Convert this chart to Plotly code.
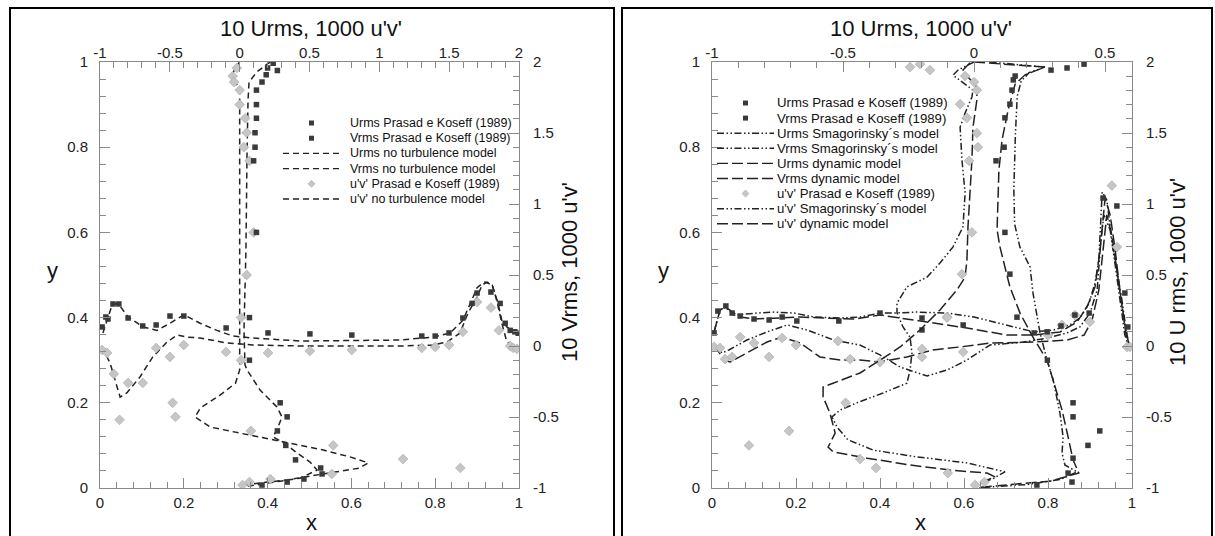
import plotly.graph_objects as go

W, H = 1215, 536
FONT = "Liberation Sans, Arial, Helvetica, sans-serif"
AX = "#8a8a8a"
LC = "#222222"
SQ = "#3a3a3a"
DI = "#c6c6c6"

# ================= LEFT PANEL : no turbulence model =================
# vertical centre-line profiles (top axis: 10 Urms / 1000 u'v', left axis: y)
L_urms_exp_u = [0.20, 0.24, 0.27, 0.19, 0.16, 0.12, 0.12, 0.12, 0.11, 0.11, 0.10, 0.12, 0.07, 0.07,
                0.29, 0.34, 0.27, 0.33, 0.40, 0.58, 0.59, 0.46, 0.34, 0.16]
L_urms_exp_y = [0.986, 0.997, 0.98, 0.97, 0.953, 0.934, 0.90, 0.868, 0.834, 0.80, 0.768, 0.60, 0.40, 0.30,
                0.20, 0.167, 0.134, 0.10, 0.066, 0.047, 0.033, 0.021, 0.014, 0.007]
L_uv_exp_u = [-0.02, -0.05, -0.04, 0.0, 0.0, 0.04, 0.05, 0.03, 0.07, 0.10, 0.05, 0.01, 0.01, 0.08,
              0.67, 1.17, 1.58, 0.66, 0.22, 0.07, 0.02, -0.46, -0.48, -0.86]
L_uv_exp_y = [0.986, 0.967, 0.953, 0.934, 0.90, 0.868, 0.834, 0.80, 0.768, 0.60, 0.50, 0.40, 0.30, 0.134,
              0.10, 0.068, 0.047, 0.033, 0.021, 0.014, 0.007, 0.167, 0.20, 0.16]
L_urms_nm_u = [0.22, 0.196, 0.124, 0.067, 0.060, 0.053, 0.045, 0.031, 0.038, 0.053, 0.146, 0.267, 0.303,
               0.275, 0.239, 0.339, 0.411, 0.504, 0.554, 0.432, 0.289, 0.146, 0.017]
L_urms_nm_y = [1.0, 0.995, 0.977, 0.953, 0.911, 0.793, 0.559, 0.371, 0.289, 0.277, 0.230, 0.190, 0.167,
               0.143, 0.120, 0.101, 0.082, 0.061, 0.042, 0.023, 0.016, 0.009, 0.002]
L_uv_nm_u = [0.0, -0.03, -0.05, -0.03, 0.0, 0.0, 0.0, 0.0, 0.0, 0.0, -0.03, -0.14, -0.28, -0.32, -0.21,
             0.0, 0.22, 0.36, 0.60, 0.79, 0.92, 0.86, 0.65, 0.52, 0.34, 0.15, 0.0]
L_uv_nm_y = [1.0, 0.988, 0.972, 0.953, 0.934, 0.887, 0.676, 0.441, 0.347, 0.277, 0.246, 0.218, 0.188,
             0.167, 0.143, 0.129, 0.115, 0.106, 0.089, 0.073, 0.059, 0.047, 0.035, 0.028, 0.019, 0.012, 0.005]

# horizontal centre-line profiles (bottom axis: x, right axis: 10 Vrms / 1000 u'v')
L_vrms_exp_x = [0.005, 0.014, 0.019, 0.031, 0.045, 0.067, 0.102, 0.134, 0.167, 0.2, 0.301, 0.401, 0.501,
                0.601, 0.768, 0.80, 0.833, 0.866, 0.888, 0.90, 0.933, 0.955, 0.967, 0.979, 0.99, 0.998]
L_vrms_exp_v = [0.134, 0.204, 0.19, 0.296, 0.296, 0.197, 0.141, 0.148, 0.211, 0.211, 0.127, 0.092, 0.085,
                0.077, 0.07, 0.07, 0.092, 0.197, 0.30, 0.373, 0.38, 0.30, 0.16, 0.11, 0.10, 0.09]
L_uvh_exp_x = [0.005, 0.017, 0.033, 0.067, 0.102, 0.134, 0.167, 0.2, 0.301, 0.401, 0.501, 0.601, 0.768,
               0.80, 0.833, 0.866, 0.90, 0.933, 0.952, 0.979, 0.986, 0.995]
L_uvh_exp_v = [-0.028, -0.049, -0.197, -0.26, -0.26, -0.014, -0.077, 0.007, -0.042, -0.049, -0.035,
               -0.028, -0.014, -0.007, 0.007, 0.10, 0.31, 0.27, 0.11, 0.0, -0.014, -0.02]
L_vrms_nm_x = [0.007, 0.017, 0.029, 0.043, 0.067, 0.103, 0.136, 0.167, 0.2, 0.239, 0.279, 0.317, 0.365,
               0.477, 0.716, 0.795, 0.835, 0.866, 0.883, 0.90, 0.912, 0.919, 0.936, 0.95, 0.959, 0.971,
               0.986, 0.998]
L_vrms_nm_v = [0.092, 0.18, 0.29, 0.30, 0.205, 0.134, 0.11, 0.16, 0.22, 0.16, 0.11, 0.07, 0.056, 0.035,
               0.042, 0.063, 0.09, 0.18, 0.30, 0.41, 0.44, 0.45, 0.43, 0.30, 0.18, 0.134, 0.11, 0.10]
L_uvh_nm_x = [0.005, 0.024, 0.041, 0.048, 0.064, 0.095, 0.126, 0.160, 0.184, 0.208, 0.239, 0.303, 0.365,
              0.477, 0.716, 0.795, 0.828, 0.859, 0.878, 0.90, 0.912, 0.924, 0.936, 0.947, 0.959, 0.971,
              0.995]
L_uvh_nm_v = [-0.007, -0.12, -0.29, -0.36, -0.33, -0.22, -0.077, 0.028, 0.077, 0.063, 0.056, 0.021,
              0.007, 0.0, 0.0, 0.007, 0.028, 0.09, 0.23, 0.345, 0.43, 0.45, 0.43, 0.32, 0.16, 0.028, -0.007]

# ================= RIGHT PANEL : LES models =================
R_urms_exp_u = [0.294, 0.355, 0.42, 0.157, 0.15, 0.145, 0.137, 0.118, 0.115, 0.084, 0.118, 0.137, 0.164,
                0.28, 0.378, 0.378, 0.48, 0.435, 0.378, 0.359, 0.374, 0.24]
R_urms_exp_y = [0.981, 0.986, 0.995, 0.967, 0.958, 0.934, 0.901, 0.869, 0.80, 0.768, 0.60, 0.502, 0.401,
                0.30, 0.20, 0.167, 0.134, 0.10, 0.07, 0.035, 0.014, 0.007]
R_uv_exp_u = [-0.244, -0.206, -0.168, -0.034, 0.0, 0.011, -0.053, -0.027, 0.011, 0.015, -0.019, -0.008,
              -0.046, -0.103, -0.49, -0.435, -0.374, -0.10, 0.004, 0.04, -0.859, -0.706]
R_uv_exp_y = [0.988, 0.995, 0.981, 0.967, 0.953, 0.934, 0.901, 0.869, 0.833, 0.80, 0.768, 0.60, 0.502,
              0.40, 0.20, 0.068, 0.047, 0.035, 0.007, 0.014, 0.10, 0.134]
R_urms_smag_u = [0.06, 0.27, 0.21, 0.18, 0.165, 0.158, 0.152, 0.155, 0.175, 0.214, 0.225, 0.252, 0.279,
                 0.302, 0.328, 0.34, 0.336, 0.347, 0.393, 0.33, 0.2, 0.0]
R_urms_smag_y = [1.0, 0.988, 0.975, 0.955, 0.92, 0.83, 0.70, 0.62, 0.566, 0.519, 0.458, 0.364, 0.30,
                 0.254, 0.176, 0.12, 0.082, 0.054, 0.038, 0.02, 0.008, 0.0]
R_urms_dyn_u = [0.0, 0.27, 0.195, 0.157, 0.13, 0.107, 0.095, 0.088, 0.099, 0.137, 0.176, 0.225, 0.279,
                0.309, 0.336, 0.359, 0.378, 0.40, 0.29, 0.1, 0.0]
R_urms_dyn_y = [1.0, 0.988, 0.97, 0.948, 0.887, 0.817, 0.746, 0.606, 0.566, 0.472, 0.41, 0.354, 0.30,
                0.237, 0.183, 0.12, 0.066, 0.035, 0.016, 0.006, 0.0]
R_uv_smag_u = [0.0, -0.061, -0.08, -0.042, -0.004, -0.008, -0.034, -0.053, -0.046, -0.034, -0.042, -0.08,
               -0.13, -0.179, -0.256, -0.294, -0.294, -0.271, -0.244, -0.237, -0.244, -0.256, -0.347,
               -0.447, -0.511, -0.542, -0.523, -0.481, -0.385, -0.218, -0.027, 0.118, 0.076, 0.0]
R_uv_smag_y = [1.0, 0.981, 0.969, 0.951, 0.934, 0.918, 0.880, 0.847, 0.770, 0.692, 0.613, 0.566, 0.528,
               0.495, 0.472, 0.434, 0.411, 0.378, 0.354, 0.317, 0.277, 0.246, 0.223, 0.20, 0.183, 0.167,
               0.143, 0.113, 0.089, 0.073, 0.059, 0.038, 0.023, 0.005]
R_uv_dyn_u = [-0.015, -0.042, -0.023, 0.011, 0.011, -0.004, -0.008, -0.015, -0.023, -0.027, -0.034,
              -0.065, -0.13, -0.206, -0.282, -0.359, -0.435, -0.538, -0.576, -0.576, -0.55, -0.53, -0.557,
              -0.538, -0.408, -0.244, -0.092, 0.05, 0.08, 0.0]
R_uv_dyn_y = [0.998, 0.981, 0.965, 0.941, 0.911, 0.847, 0.770, 0.692, 0.613, 0.535, 0.495, 0.465, 0.418,
              0.371, 0.331, 0.30, 0.27, 0.246, 0.237, 0.214, 0.176, 0.129, 0.096, 0.085, 0.07, 0.054,
              0.042, 0.035, 0.026, 0.007]

R_vrms_exp_x = [0.005, 0.014, 0.033, 0.048, 0.067, 0.10, 0.136, 0.167, 0.202, 0.302, 0.40, 0.50, 0.50,
                0.598, 0.767, 0.798, 0.831, 0.864, 0.898, 0.931, 0.964, 0.983, 0.99]
R_vrms_exp_v = [0.092, 0.246, 0.282, 0.232, 0.211, 0.19, 0.183, 0.204, 0.176, 0.176, 0.232, 0.197, 0.113,
                0.148, 0.092, 0.10, 0.141, 0.218, 0.232, 1.042, 0.986, 0.373, 0.134]
R_uvh_exp_x = [0.005, 0.019, 0.031, 0.048, 0.067, 0.10, 0.136, 0.167, 0.20, 0.30, 0.329, 0.40, 0.50, 0.50,
               0.56, 0.598, 0.80, 0.833, 0.864, 0.90, 0.952, 0.964, 0.988, 0.995]
R_uvh_exp_v = [-0.007, -0.014, -0.092, -0.077, 0.063, 0.021, -0.077, 0.056, 0.007, 0.035, -0.092, -0.113,
               -0.077, -0.021, 0.204, -0.042, 0.077, 0.148, 0.218, 0.17, 1.13, 0.697, -0.007, -0.007]
R_vrms_smag_x = [0.005, 0.019, 0.031, 0.052, 0.107, 0.148, 0.195, 0.243, 0.305, 0.352, 0.40, 0.431, 0.488,
                 0.56, 0.624, 0.702, 0.767, 0.814, 0.852, 0.876, 0.898, 0.912, 0.921, 0.929, 0.94, 0.952,
                 0.964, 0.976, 0.986, 0.993]
R_vrms_smag_v = [0.099, 0.253, 0.275, 0.218, 0.232, 0.239, 0.232, 0.204, 0.197, 0.204, 0.232, 0.232, 0.239,
                 0.232, 0.204, 0.148, 0.099, 0.113, 0.148, 0.197, 0.303, 0.444, 0.606, 1.084, 1.028, 0.746,
                 0.535, 0.324, 0.113, 0.007]
R_vrms_dyn_x = [0.005, 0.019, 0.031, 0.067, 0.10, 0.148, 0.21, 0.267, 0.338, 0.40, 0.448, 0.526, 0.607,
                0.702, 0.767, 0.829, 0.869, 0.893, 0.912, 0.924, 0.936, 0.948, 0.96, 0.971, 0.983, 0.993]
R_vrms_dyn_v = [0.099, 0.253, 0.275, 0.204, 0.19, 0.197, 0.204, 0.197, 0.19, 0.218, 0.197, 0.162, 0.127,
                0.077, 0.077, 0.099, 0.169, 0.275, 0.416, 0.676, 1.042, 0.923, 0.676, 0.394, 0.148, 0.007]
R_uvh_smag_x = [0.005, 0.024, 0.04, 0.083, 0.131, 0.179, 0.226, 0.29, 0.352, 0.40, 0.448, 0.512, 0.56,
                0.607, 0.662, 0.743, 0.798, 0.845, 0.876, 0.90, 0.917, 0.926, 0.933, 0.948, 0.96, 0.971,
                0.983, 0.993]
R_uvh_smag_v = [0.007, -0.049, -0.028, 0.042, 0.099, 0.148, 0.113, 0.042, 0.007, -0.063, -0.148, -0.211,
                -0.169, -0.099, 0.007, 0.028, 0.056, 0.092, 0.134, 0.232, 0.394, 0.746, 0.923, 0.817, 0.570,
                0.324, 0.077, -0.007]
R_uvh_dyn_x = [0.005, 0.029, 0.043, 0.083, 0.131, 0.167, 0.21, 0.257, 0.305, 0.352, 0.40, 0.464, 0.526,
               0.59, 0.662, 0.767, 0.845, 0.886, 0.905, 0.921, 0.931, 0.94, 0.952, 0.964, 0.976, 0.986, 0.993]
R_uvh_dyn_v = [0.007, -0.099, -0.113, -0.049, 0.028, 0.063, 0.021, -0.077, -0.099, -0.099, -0.113, -0.077,
               -0.028, -0.007, 0.021, 0.028, 0.042, 0.077, 0.183, 0.394, 0.676, 0.923, 0.782, 0.535, 0.289,
               0.077, -0.007]

# tick labels
POS_TICKS = [0, 0.2, 0.4, 0.6, 0.8, 1]
POS_TEXT = ["0", "0.2", "0.4", "0.6", "0.8", "1"]
VAL_TICKS = [-1, -0.5, 0, 0.5, 1, 1.5, 2]
VAL_TEXT = ["-1", "-0.5", "0", "0.5", "1", "1.5", "2"]
VAL_TICKS_R = [-1, -0.5, 0, 0.5]
VAL_TEXT_R = ["-1", "-0.5", "0", "0.5"]

LEG_L = ["Urms Prasad e Koseff (1989)", "Vrms Prasad e Koseff (1989)", "Urms no turbulence model",
         "Vrms no turbulence model", "u'v' Prasad e Koseff (1989)", "u'v' no turbulence model"]
LEG_R = ["Urms Prasad e Koseff (1989)", "Vrms Prasad e Koseff (1989)", "Urms Smagorinsky´s model",
         "Vrms Smagorinsky´s model", "Urms dynamic model", "Vrms dynamic model",
         "u'v' Prasad e Koseff (1989)", "u'v' Smagorinsky´s model", "u'v' dynamic model"]

DASH = "6px,4px"
DDOT = "7px,2.5px,1.5px,2.5px,1.5px,2.5px"
LDASH = "11px,4px"


def px(x):
    return x / W


def py(y):
    return 1 - y / H


fig = go.Figure()


def line(x, y, xa, ya, dash):
    fig.add_trace(go.Scatter(x=x, y=y, xaxis=xa, yaxis=ya, mode="lines", showlegend=False,
                             hoverinfo="skip", line=dict(color=LC, width=1.5, dash=dash)))


def sq(x, y, xa, ya):
    fig.add_trace(go.Scatter(x=x, y=y, xaxis=xa, yaxis=ya, mode="markers", showlegend=False,
                             marker=dict(symbol="square", size=5.5, color=SQ)))


def di(x, y, xa, ya):
    fig.add_trace(go.Scatter(x=x, y=y, xaxis=xa, yaxis=ya, mode="markers", showlegend=False,
                             marker=dict(symbol="diamond", size=7.5, color=DI,
                                         line=dict(color="#a8a8a8", width=0.6))))


# Axis layout per panel:
#   main pair (x / y)   = bottom position axis + right value axis  -> horizontal profiles
#   overlay pair (x2/y2)= top value axis + left position axis      -> vertical profiles
# left panel: x, y (main)  x2, y2 (overlay); right panel: x3, y3 (main)  x4, y4 (overlay)

# left panel
line(L_vrms_nm_x, L_vrms_nm_v, "x", "y", DASH)
line(L_uvh_nm_x, L_uvh_nm_v, "x", "y", DASH)
di(L_uvh_exp_x, L_uvh_exp_v, "x", "y")
sq(L_vrms_exp_x, L_vrms_exp_v, "x", "y")
line(L_urms_nm_u, L_urms_nm_y, "x2", "y2", DASH)
line(L_uv_nm_u, L_uv_nm_y, "x2", "y2", DASH)
di(L_uv_exp_u, L_uv_exp_y, "x2", "y2")
sq(L_urms_exp_u, L_urms_exp_y, "x2", "y2")

# right panel
line(R_vrms_smag_x, R_vrms_smag_v, "x3", "y3", DDOT)
line(R_vrms_dyn_x, R_vrms_dyn_v, "x3", "y3", LDASH)
line(R_uvh_smag_x, R_uvh_smag_v, "x3", "y3", DDOT)
line(R_uvh_dyn_x, R_uvh_dyn_v, "x3", "y3", LDASH)
di(R_uvh_exp_x, R_uvh_exp_v, "x3", "y3")
sq(R_vrms_exp_x, R_vrms_exp_v, "x3", "y3")
line(R_urms_smag_u, R_urms_smag_y, "x4", "y4", DDOT)
line(R_urms_dyn_u, R_urms_dyn_y, "x4", "y4", LDASH)
line(R_uv_smag_u, R_uv_smag_y, "x4", "y4", DDOT)
line(R_uv_dyn_u, R_uv_dyn_y, "x4", "y4", LDASH)
di(R_uv_exp_u, R_uv_exp_y, "x4", "y4")
sq(R_urms_exp_u, R_urms_exp_y, "x4", "y4")


def axis(rng, dom, anchor, side, tv, tt, m0, md, standoff, overlaying=None):
    d = dict(range=rng, domain=dom, anchor=anchor, side=side, tickmode="array", tickvals=tv,
             ticktext=tt, ticks="inside", ticklen=10, tickwidth=1, tickcolor=AX, showline=True,
             linecolor=AX, linewidth=1, showgrid=False, zeroline=False, fixedrange=True,
             automargin=False, ticklabelstandoff=standoff,
             tickfont=dict(family=FONT, size=15, color="#222"),
             minor=dict(tickmode="linear", tick0=m0, dtick=md, ticks="inside", ticklen=6,
                        tickcolor=AX, tickwidth=1, showgrid=False))
    if overlaying:
        d["overlaying"] = overlaying
    return d


LX = [px(100), px(519)]
RX = [px(712), px(1132)]
YD = [py(488), py(62)]

fig.update_layout(
    width=W, height=H, autosize=False,
    margin=dict(l=0, r=0, t=0, b=0, pad=0, autoexpand=False),
    paper_bgcolor="white", plot_bgcolor="white", showlegend=False,
    xaxis=axis([0, 1], LX, "y", "bottom", POS_TICKS, POS_TEXT, 0, 0.04, 1),
    yaxis=axis([-1, 2], YD, "x", "right", VAL_TICKS, VAL_TEXT, -1, 0.1, 10),
    xaxis2=axis([-1, 2], LX, "y2", "top", VAL_TICKS, VAL_TEXT, -1, 0.1, -3, "x"),
    yaxis2=axis([0, 1], YD, "x2", "left", POS_TICKS, POS_TEXT, 0, 0.04, 8, "y"),
    xaxis3=axis([0, 1], RX, "y3", "bottom", POS_TICKS, POS_TEXT, 0, 0.04, 1),
    yaxis3=axis([-1, 2], YD, "x3", "right", VAL_TICKS, VAL_TEXT, -1, 0.1, 10),
    xaxis4=axis([-1, 0.603], RX, "y4", "top", VAL_TICKS_R, VAL_TEXT_R, -1, 0.1, -3, "x3"),
    yaxis4=axis([0, 1], YD, "x4", "left", POS_TICKS, POS_TEXT, 0, 0.04, 8, "y3"),
)

shapes = []
ann = []
# panel frames
for x0, x1 in [(10, 614), (622, 1212)]:
    shapes.append(dict(type="rect", xref="paper", yref="paper", x0=px(x0), x1=px(x1), y0=py(545),
                       y1=py(8), line=dict(color="black", width=2), fillcolor="rgba(0,0,0,0)",
                       layer="above"))


def title(text, x, y, size=22, angle=0):
    ann.append(dict(text=text, x=px(x), y=py(y), xref="paper", yref="paper", showarrow=False,
                    xanchor="center", yanchor="middle", textangle=angle,
                    font=dict(family=FONT, size=size, color="#111")))


title("10 Urms, 1000 u'v'", 311, 28)
title("10 Urms, 1000 u'v'", 921, 28)
title("y", 52, 270)
title("y", 663, 270)
title("x", 311, 522)
title("x", 921, 522)
title("10 Vrms, 1000 u'v'", 569, 272, angle=-90)
title("10 U rms, 1000 u'v'", 1177, 272, angle=-90)


def legend(labels, kinds, x_line0, x_line1, x_text, y0, dy, fsize):
    xc = (x_line0 + x_line1) / 2
    for i, (lab, k) in enumerate(zip(labels, kinds)):
        yy = y0 + dy * i
        if k == "sq":
            shapes.append(dict(type="rect", xref="paper", yref="paper", x0=px(xc - 2.5), x1=px(xc + 2.5),
                               y0=py(yy + 2.5), y1=py(yy - 2.5), fillcolor=SQ, line=dict(width=0)))
        elif k == "di":
            path = "M {a},{b} L {c},{d} L {a},{e} L {f},{d} Z".format(
                a=px(xc), b=py(yy - 3.5), c=px(xc + 3.5), d=py(yy), e=py(yy + 3.5), f=px(xc - 3.5))
            shapes.append(dict(type="path", xref="paper", yref="paper", path=path, fillcolor=DI,
                               line=dict(color="#a8a8a8", width=0.6)))
        else:
            shapes.append(dict(type="line", xref="paper", yref="paper", x0=px(x_line0), x1=px(x_line1),
                               y0=py(yy), y1=py(yy), line=dict(color=LC, width=1.4, dash=k)))
        ann.append(dict(text=lab, x=px(x_text), y=py(yy), xref="paper", yref="paper", showarrow=False,
                        xanchor="left", yanchor="middle",
                        font=dict(family=FONT, size=fsize, color="#111")))


legend(LEG_L, ["sq", "sq", DASH, DASH, "di", DASH], 283, 340, 348, 123, 15.2, 12.5)
legend(LEG_R, ["sq", "sq", DDOT, DDOT, LDASH, LDASH, "di", DDOT, LDASH], 717, 774, 775, 103, 15.1, 13.2)

fig.update_layout(shapes=shapes, annotations=ann)
fig.write_html("out.html", config={"displayModeBar": False, "staticPlot": True},
               post_script="document.body.style.margin='0px';document.body.style.overflow='hidden';")
